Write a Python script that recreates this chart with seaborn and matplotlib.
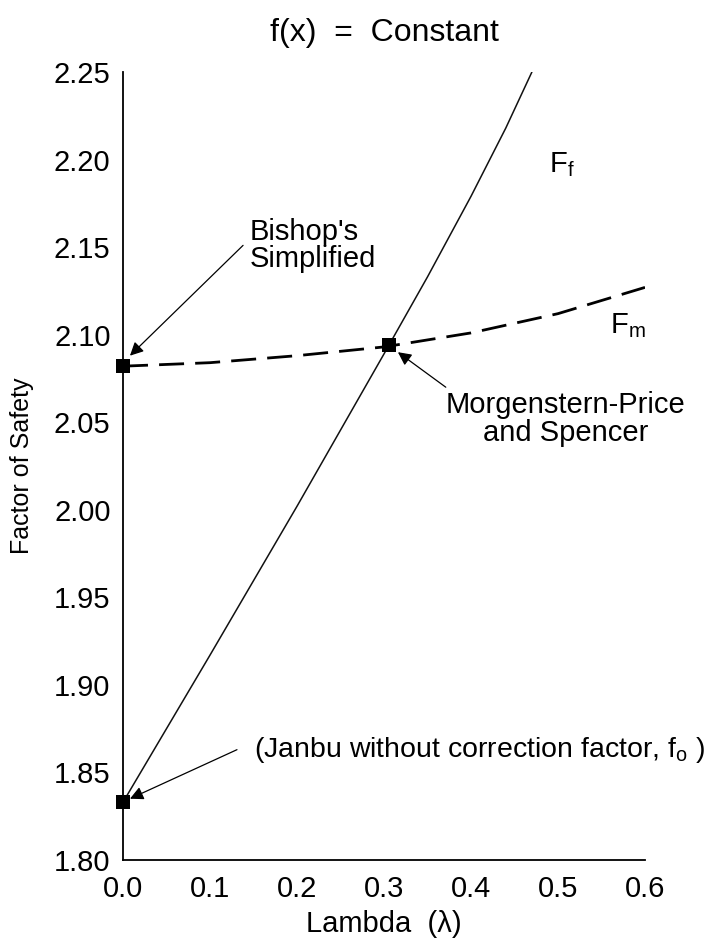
import numpy as np
import pandas as pd
import matplotlib
matplotlib.use("Agg")
import matplotlib.pyplot as plt
import seaborn as sns

# values
lam_f = [0.0, 0.1, 0.2, 0.3, 0.35, 0.4, 0.44, 0.47]
fs_f = [1.833, 1.917, 2.002, 2.089, 2.133, 2.179, 2.218, 2.250]

lam_m = [0.0, 0.1, 0.2, 0.3, 0.4, 0.5, 0.6]
fs_m = [2.082, 2.084, 2.088, 2.093, 2.101, 2.112, 2.127]

pt_lam = [0.0, 0.0, 0.306]
pt_fs = [2.082, 1.833, 2.094]

x_ticks = [0.0, 0.1, 0.2, 0.3, 0.4, 0.5, 0.6]
y_ticks = [1.80, 1.85, 1.90, 1.95, 2.00, 2.05, 2.10, 2.15, 2.20, 2.25]

sns.set_theme(style="white")
plt.rcParams['font.family'] = ['Liberation Sans', 'DejaVu Sans']
plt.rcParams['text.color'] = 'black'
plt.rcParams['axes.labelcolor'] = 'black'
plt.rcParams['mathtext.fontset'] = 'custom'
plt.rcParams['mathtext.rm'] = 'Liberation Sans'
plt.rcParams['mathtext.it'] = 'Liberation Sans'

fig = plt.figure(figsize=(7.17, 9.39), dpi=100)
ax = fig.add_axes([123 / 717, 1 - 860 / 939, (645 - 123) / 717, (860 - 72) / 939])

df_f = pd.DataFrame({'lam': lam_f, 'fs': fs_f})
df_m = pd.DataFrame({'lam': lam_m, 'fs': fs_m})

sns.lineplot(data=df_f, x='lam', y='fs', color='#111111', lw=1.1, ax=ax)
sns.lineplot(data=df_m, x='lam', y='fs', color='black', lw=2.0, ax=ax)
ax.lines[-1].set_dashes([9, 4])
sns.scatterplot(x=pt_lam, y=pt_fs, marker='s', color='black', s=90,
                linewidth=0, ax=ax, zorder=5, clip_on=False)

ax.set_xlim(0, 0.6)
ax.set_ylim(1.80, 2.25)
ax.set_xticks(x_ticks)
ax.set_yticks(y_ticks)
ax.set_xticklabels([f"{v:.1f}" for v in x_ticks])
ax.set_yticklabels([f"{v:.2f}" for v in y_ticks])
ax.tick_params(axis='both', length=0, labelsize=21, colors='black')
ax.tick_params(axis='y', pad=9)
ax.tick_params(axis='x', pad=11)

for s in ['top', 'right']:
    ax.spines[s].set_visible(False)
for s in ['left', 'bottom']:
    ax.spines[s].set_color('black')
    ax.spines[s].set_linewidth(1.3)

ax.set_xlabel("Lambda  (λ)", fontsize=21, labelpad=5)
ax.set_ylabel("Factor of Safety", fontsize=18, labelpad=14)
ax.set_title("f(x)  =  Constant", fontsize=23, pad=22)

arrow = dict(arrowstyle='-|>', color='black', lw=0.9, mutation_scale=20,
             shrinkA=0, shrinkB=0)

ax.annotate('', xy=(0.008, 2.088), xytext=(0.138, 2.151), arrowprops=arrow)
ax.text(0.146, 2.151, "Bishop's\nSimplified", fontsize=21, ha='left',
        va='center', linespacing=0.95)

ax.annotate('', xy=(0.316, 2.090), xytext=(0.371, 2.070), arrowprops=arrow)
ax.text(0.509, 2.052, "Morgenstern-Price\nand Spencer", fontsize=21,
        ha='center', va='center', multialignment='center', linespacing=1.0)

ax.annotate('', xy=(0.008, 1.835), xytext=(0.131, 1.863), arrowprops=arrow)
ax.text(0.150, 1.863, "(Janbu without correction factor, f$_\\mathrm{o}$ )",
        fontsize=20.5, ha='left', va='center', clip_on=False)

ax.text(0.49, 2.197, "F$_\\mathrm{f}$", fontsize=21, ha='left', va='center')
ax.text(0.56, 2.105, "F$_\\mathrm{m}$", fontsize=21, ha='left', va='center')

fig.savefig("out.png", dpi=100)
